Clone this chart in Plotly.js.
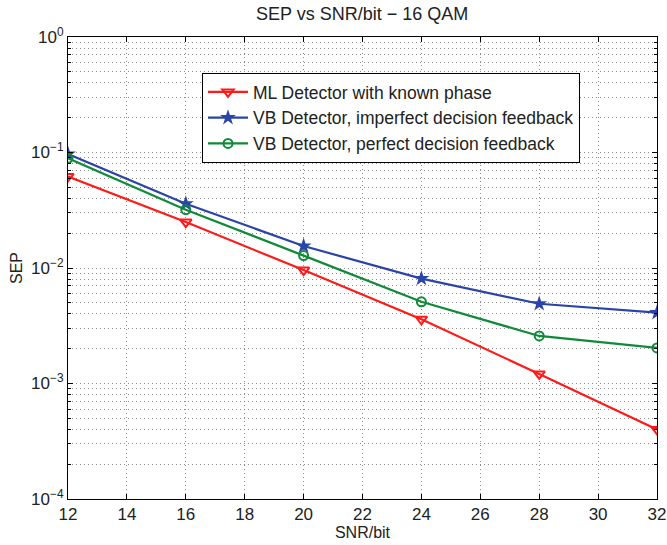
<!DOCTYPE html>
<html><head><meta charset="utf-8">
<script src="https://cdn.plot.ly/plotly-3.0.1.min.js"></script>
<style>body{margin:0;background:#fff}#c{width:667px;height:545px}</style>
</head><body><div id="c"></div>
<script>
const snr = [12, 16, 20, 24, 28, 32];
const mlKnown = [0.062, 0.025, 0.0096, 0.0036, 0.00121, 0.0004];
const vbImperfect = [0.097, 0.036, 0.0155, 0.0081, 0.0049, 0.0041];
const vbPerfect = [0.089, 0.032, 0.0128, 0.0051, 0.00258, 0.00203];
const names = ["ML Detector with known phase", "VB Detector, imperfect decision feedback", "VB Detector, perfect decision feedback"];
const xTicks = [12, 14, 16, 18, 20, 22, 24, 26, 28, 30, 32];
const yTickVals = [1, 0.1, 0.01, 0.001, 0.0001];
const yTickText = ["10<sup>0</sup>", "10<sup>−1</sup>", "10<sup>−2</sup>", "10<sup>−3</sup>", "10<sup>−4</sup>"];
const decades = [0.0001, 0.001, 0.01, 0.1];
const digits = [2, 3, 4, 5, 6, 7, 8, 9];
const yMinorVals = [];
decades.forEach(d => digits.forEach(k => yMinorVals.push(k * d)));

const gridCol = "#8c8c8c";
const gridDash = "1px,3px";
const traces = [
  {x: snr, y: mlKnown, name: names[0], mode: "lines+markers",
   line: {color: "#ff1a1a", width: 2.2},
   marker: {symbol: "triangle-down-open", size: 10, color: "#ff1a1a", line: {width: 2}}},
  {x: snr, y: vbImperfect, name: names[1], mode: "lines+markers",
   line: {color: "#2a44a8", width: 2.2},
   marker: {symbol: "star", size: 12, color: "#2a44a8"}},
  {x: snr, y: vbPerfect, name: names[2], mode: "lines+markers",
   line: {color: "#108a3a", width: 2.2},
   marker: {symbol: "circle-open", size: 9, color: "#108a3a", line: {width: 2}}}
];
const layout = {
  width: 667, height: 545,
  margin: {l: 68, r: 10, t: 37, b: 46},
  paper_bgcolor: "#fff", plot_bgcolor: "#fff",
  font: {family: "Liberation Sans, Arial, sans-serif", size: 16, color: "#222"},
  title: {text: "SEP vs SNR/bit − 16 QAM", font: {size: 18}, x: 0.543, xanchor: "center", y: 0.974, yanchor: "middle"},
  xaxis: {range: [12, 32], tickvals: xTicks, ticks: "inside", ticklen: 5, tickcolor: "#000",
    showline: true, linecolor: "#000", linewidth: 1, mirror: "ticks",
    showgrid: true, gridcolor: gridCol, griddash: gridDash, gridwidth: 1, zeroline: false,
    tickfont: {size: 17},
    title: {text: "SNR/bit", font: {size: 16}, standoff: 0}},
  yaxis: {type: "log", range: [-4, 0], tickvals: yTickVals, ticktext: yTickText,
    ticks: "inside", ticklen: 5, tickcolor: "#000",
    showline: true, linecolor: "#000", linewidth: 1, mirror: "ticks",
    showgrid: true, gridcolor: gridCol, griddash: gridDash, gridwidth: 1, zeroline: false,
    tickfont: {size: 17},
    minor: {tickmode: "array", tickvals: yMinorVals, showgrid: true, gridcolor: gridCol, griddash: gridDash, gridwidth: 1,
      ticks: "inside", ticklen: 3, tickcolor: "#000"},
    title: {text: "SEP", font: {size: 16}, standoff: 4}},
  legend: {x: 0.2275, y: 0.922, xanchor: "left", yanchor: "top", bgcolor: "#fff",
    bordercolor: "#000", borderwidth: 1, font: {size: 17.5}, tracegroupgap: 0, itemwidth: 40},
  showlegend: true
};
Plotly.newPlot("c", traces, layout, {displayModeBar: false, staticPlot: true});
</script></body></html>
